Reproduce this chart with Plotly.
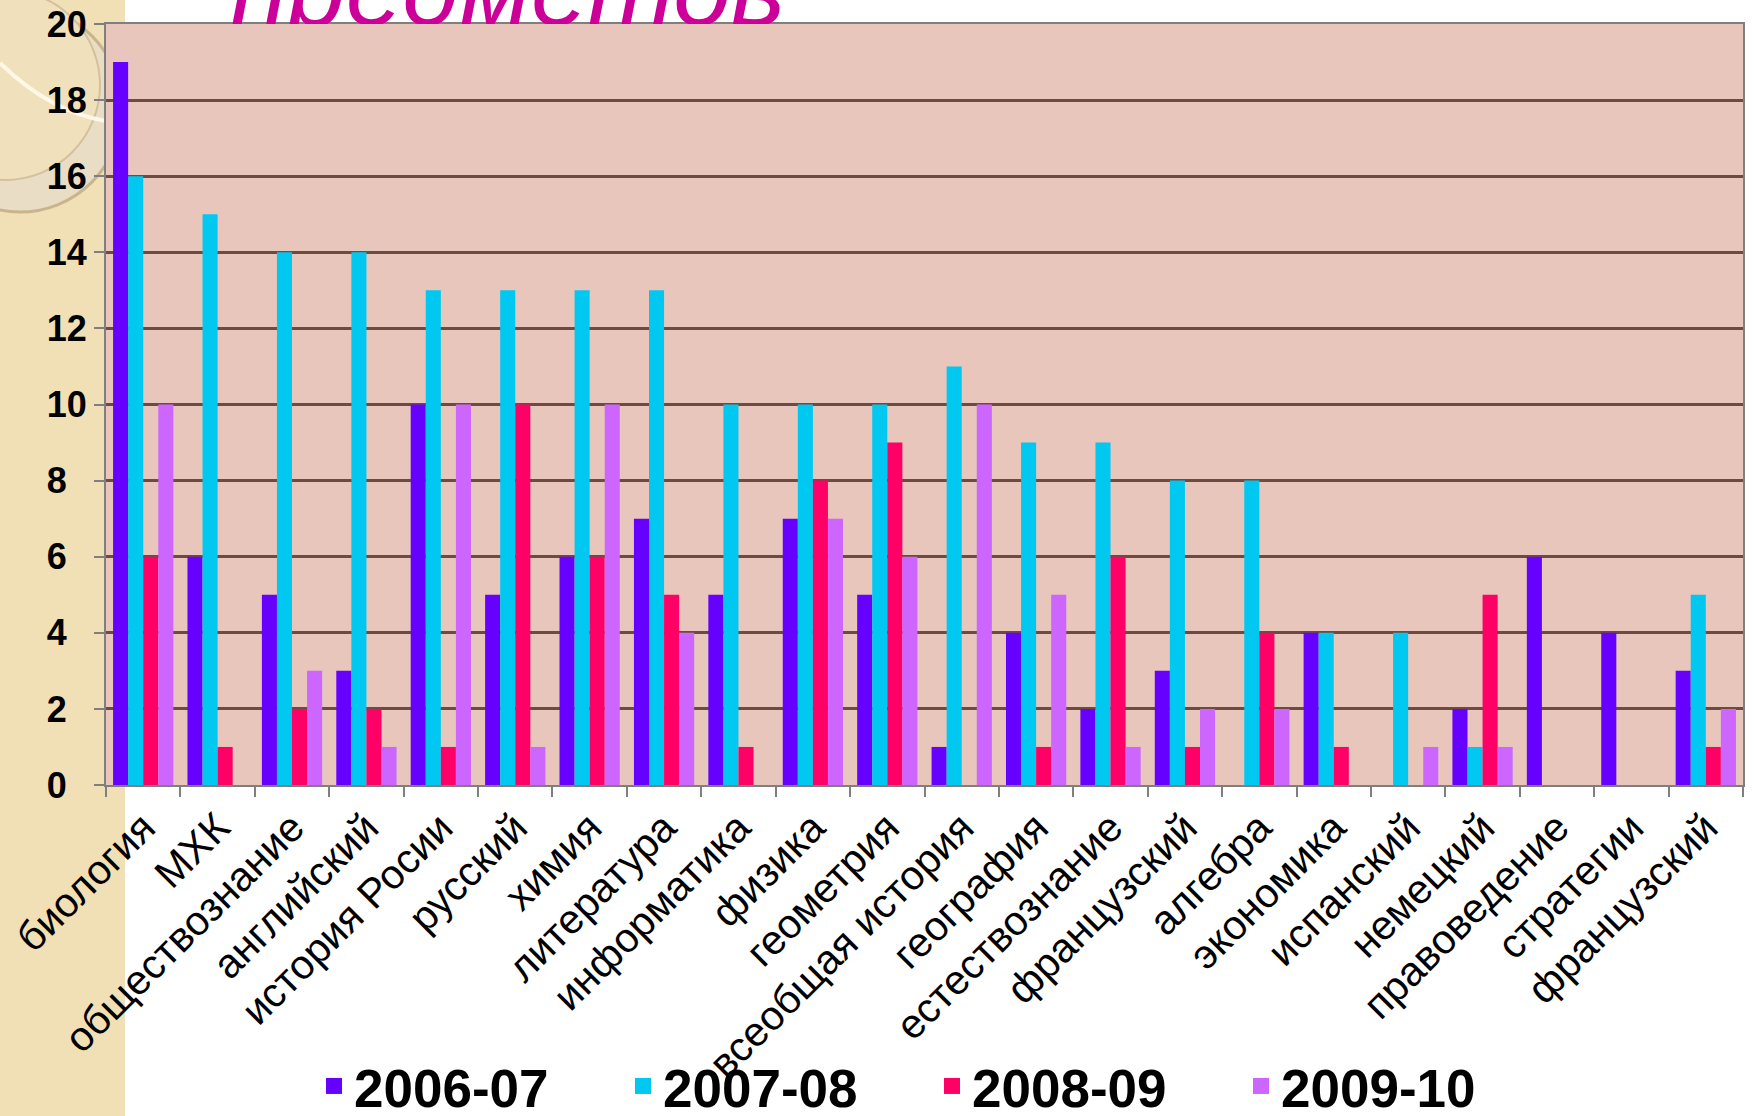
import plotly.graph_objects as go

# ---------------- data ----------------
categories = ["биология", "МХК", "обществознание", "английский", "история Росии",
              "русский", "химия", "литература", "информатика", "физика", "геометрия",
              "всеобщая история", "география", "естествознание", "французский",
              "алгебра", "экономика", "испанский", "немецкий", "правоведение",
              "стратегии", "французский"]
series_names = ["2006-07", "2007-08", "2008-09", "2009-10"]
v_2006_07 = [19, 6, 5, 3, 10, 5, 6, 7, 5, 7, 5, 1, 4, 2, 3, 0, 4, 0, 2, 6, 4, 3]
v_2007_08 = [16, 15, 14, 14, 13, 13, 13, 13, 10, 10, 10, 11, 9, 9, 8, 8, 4, 4, 1, 0, 0, 5]
v_2008_09 = [6, 1, 2, 2, 1, 10, 6, 5, 1, 8, 9, 0, 1, 6, 1, 4, 1, 0, 5, 0, 0, 1]
v_2009_10 = [10, 0, 3, 1, 10, 1, 10, 4, 0, 7, 6, 10, 5, 1, 2, 2, 0, 1, 1, 0, 0, 2]
y_ticks = [0, 2, 4, 6, 8, 10, 12, 14, 16, 18, 20]
title_text = "предметов"

# ---------------- layout geometry (pixels) ----------------
W, H = 1754, 1116
L, R, T, B = 106, 11, 0, 331
PW, PH = W - L - R, H - T - B
PLOT_TOP_PX = 24


def px2x(px):
    return (px - L) / PW


def py2y(py):
    return (H - B - py) / PH


ydom_top = py2y(PLOT_TOP_PX)

colors = ["#6600FF", "#00C8F0", "#FF0066", "#CC66FF"]
FONT = "Liberation Sans, Arial, sans-serif"

xidx = list(range(len(categories)))
ytext = [str(v) + "\u00a0\u00a0" * (2 - len(str(v))) for v in y_ticks]

fig = go.Figure()
for name, vals, col in zip(series_names, [v_2006_07, v_2007_08, v_2008_09, v_2009_10], colors):
    fig.add_trace(go.Bar(x=xidx, y=vals, name=name, legendgroup=name, showlegend=False,
                         marker=dict(color=col, line=dict(width=0)),
                         hoverinfo="skip"))
# legend entries with larger square keys
for name, col in zip(series_names, colors):
    fig.add_trace(go.Scatter(x=[None], y=[None], mode="markers", name=name, legendgroup=name,
                             marker=dict(symbol="square", size=16, color=col,
                                         line=dict(width=0)),
                             showlegend=True, hoverinfo="skip"))

# partially hidden slide title, clipped at the plot top
fig.add_trace(go.Scatter(x=[px2x(508)], y=[(PLOT_TOP_PX + 1.5) / PLOT_TOP_PX],
                         mode="text", text=[title_text], textposition="middle center",
                         textfont=dict(family=FONT, size=104, color="#CC0099", style="italic"),
                         cliponaxis=True, xaxis="x2", yaxis="y2",
                         showlegend=False, hoverinfo="skip"))

shapes = [
    # beige side strip
    dict(type="rect", xref="paper", yref="paper", x0=px2x(0), x1=px2x(125),
         y0=py2y(H), y1=py2y(0), fillcolor="#F1E0B6", line=dict(width=0), layer="below"),
    # decorative ring
    dict(type="circle", xref="paper", yref="paper", x0=px2x(-82), x1=px2x(122),
         y0=py2y(212), y1=py2y(6), fillcolor="#E9DDC5",
         line=dict(color="#C9B48E", width=3), layer="below"),
    dict(type="circle", xref="paper", yref="paper", x0=px2x(-90), x1=px2x(100),
         y0=py2y(180), y1=py2y(-10), fillcolor="#F0E1BC",
         line=dict(color="#D3C19E", width=2), layer="below"),
    dict(type="path", xref="paper", yref="paper",
         path=f"M {px2x(0)},{py2y(63)} Q {px2x(50)},{py2y(112)} {px2x(106)},{py2y(121)}",
         line=dict(color="#FFF8E6", width=4), layer="below"),
    # plot area background
    dict(type="rect", xref="paper", yref="paper", x0=0, x1=1, y0=0, y1=ydom_top,
         fillcolor="#E8C6BC", line=dict(width=0), layer="below"),
]

fig.update_layout(
    width=W, height=H,
    margin=dict(l=L, r=R, t=T, b=B, autoexpand=False),
    paper_bgcolor="white",
    plot_bgcolor="rgba(0,0,0,0)",
    barmode="group", bargap=0.19, bargroupgap=0,
    shapes=shapes,
    font=dict(family=FONT, color="black"),
    xaxis=dict(domain=[0, 1], anchor="y", range=[-0.5, len(categories) - 0.5],
               tickmode="array", tickvals=xidx, ticktext=categories,
               tickangle=-45, tickfont=dict(family=FONT, size=41, color="black"),
               ticks="", ticklen=1,
               showline=True, linecolor="#7F7F7F", linewidth=2, mirror=True,
               showgrid=False, zeroline=False, automargin=False,
               minor=dict(tickmode="linear", tick0=-0.5, dtick=1, ticks="outside",
                          ticklen=10, tickcolor="#7F7F7F", tickwidth=2, showgrid=False)),
    yaxis=dict(domain=[0, ydom_top], anchor="x", range=[0, 20],
               tickmode="array", tickvals=y_ticks, ticktext=ytext,
               tickfont=dict(family=FONT, size=36, color="black", weight="bold"),
               ticks="outside", ticklen=10, tickcolor="#7F7F7F", tickwidth=2,
               showgrid=True, gridcolor="#6E4B42", gridwidth=3,
               showline=True, linecolor="#7F7F7F", linewidth=2, mirror=True,
               zeroline=False, automargin=False),
    xaxis2=dict(domain=[0, 1], anchor="y2", range=[0, 1], visible=False, fixedrange=True),
    yaxis2=dict(domain=[ydom_top, 1], anchor="x2", range=[0, 1], visible=False, fixedrange=True),
    showlegend=True,
    legend=dict(orientation="h", xref="container", yref="container",
                x=314 / W, y=1 - 1086 / H, xanchor="left", yanchor="middle",
                font=dict(family=FONT, size=53, color="black", weight="bold"),
                entrywidth=264, entrywidthmode="pixels", itemsizing="trace",
                bgcolor="rgba(0,0,0,0)", borderwidth=0),
)

fig.write_html("out.html", config={"displayModeBar": False},
               post_script="document.body.style.margin='0';document.body.style.overflow='hidden';")
